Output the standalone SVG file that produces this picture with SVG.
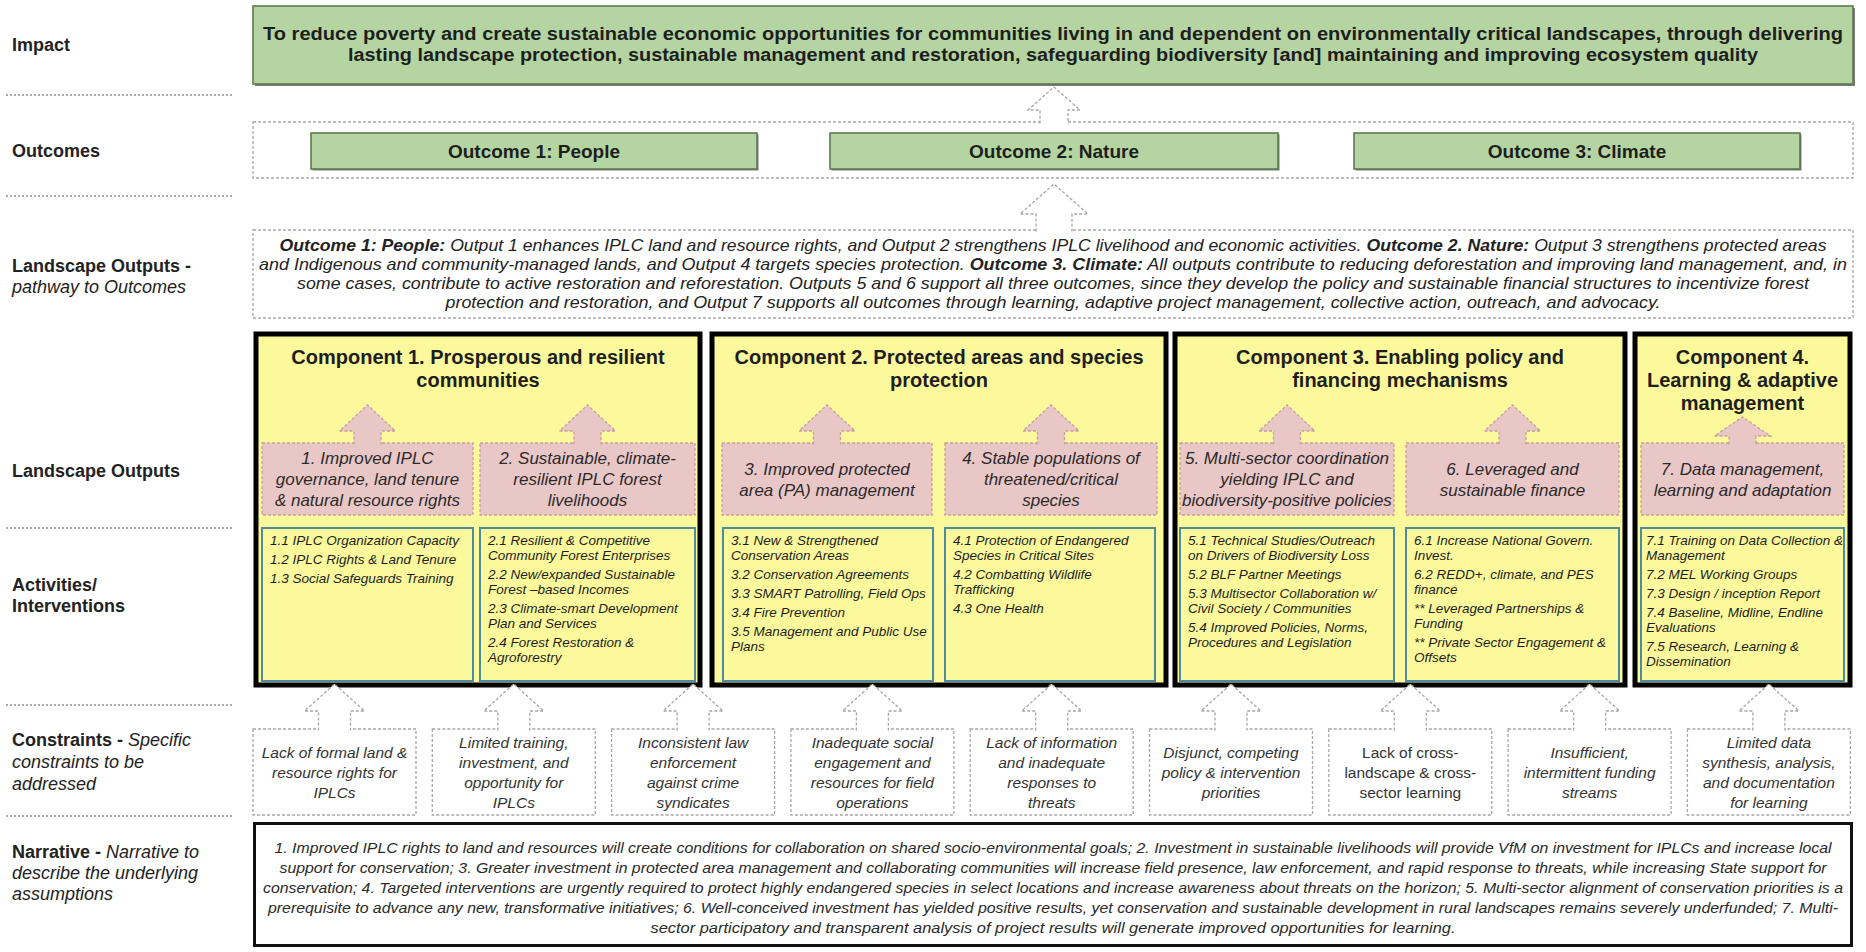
<svg xmlns="http://www.w3.org/2000/svg" width="1866" height="952" viewBox="0 0 1866 952">
  <style>
    text { font-family: "Liberation Sans", Arial, sans-serif; }
    .lbl { font-size: 18px; font-weight: bold; fill: #222; }
    .it { font-weight: normal; font-style: italic; }
    .sep { stroke: #8c8c8c; stroke-width: 1.5; stroke-dasharray: 2 2; fill: none; }
    .green { fill: #b4d5a2; stroke: #5c7a4e; stroke-width: 1.6; }
    .shadow { fill: #7a7a7a; }
    .gtxt { font-size: 18px; font-weight: bold; fill: #1e1e1e; text-anchor: middle; }
    .otxt { font-size: 19px; font-weight: bold; fill: #1e1e1e; text-anchor: middle; }
    .dbox { fill: #fff; stroke: #a6a6a6; stroke-width: 1.3; stroke-dasharray: 3 2; }
    .darrow { fill: #fff; stroke: #a6a6a6; stroke-width: 1.3; stroke-dasharray: 3 2; }
    .ptw { font-size: 16.5px; font-style: italic; fill: #222; text-anchor: middle; }
    .b { font-weight: bold; }
    .comp { fill: #fbf99b; stroke: #000; stroke-width: 5; }
    .ttl { font-size: 20px; font-weight: bold; fill: #1e1e1e; text-anchor: middle; }
    .pink { fill: #eac7c7; stroke: #c79d9d; stroke-width: 1.3; stroke-dasharray: 3 2; }
    .ptxt { font-size: 17px; font-style: italic; fill: #2a2a2a; text-anchor: middle; }
    .act { fill: #fbf99b; stroke: #4f8ba0; stroke-width: 2; }
    .atxt { font-size: 13.5px; font-style: italic; fill: #1e1e1e; }
    .ctxt { font-size: 15.5px; font-style: italic; fill: #333; text-anchor: middle; }
    .ctxt.up { font-style: normal; }
    .narr { fill: #fff; stroke: #111; stroke-width: 3; }
    .ntxt { font-size: 14.5px; font-style: italic; fill: #2a2a2a; text-anchor: middle; }
  </style>

  <rect width="1866" height="952" fill="#fff"/>

  <!-- row labels and separators -->
  <g id="row-labels">
    <text class="lbl" x="12" y="51">Impact</text>
    <text class="lbl" x="12" y="157">Outcomes</text>
    <text class="lbl" x="12" y="272">Landscape Outputs -</text>
    <text class="lbl it" x="12" y="293">pathway to Outcomes</text>
    <text class="lbl" x="12" y="477">Landscape Outputs</text>
    <text class="lbl" x="12" y="591">Activities/</text>
    <text class="lbl" x="12" y="612">Interventions</text>
    <text class="lbl" x="12" y="746">Constraints - <tspan class="it">Specific</tspan></text>
    <text class="lbl it" x="12" y="768">constraints to be</text>
    <text class="lbl it" x="12" y="790">addressed</text>
    <text class="lbl" x="12" y="858">Narrative - <tspan class="it">Narrative to</tspan></text>
    <text class="lbl it" x="12" y="879">describe the underlying</text>
    <text class="lbl it" x="12" y="900">assumptions</text>
  </g>
  <g id="separators">
    <line class="sep" x1="6" y1="95" x2="233" y2="95"/>
    <line class="sep" x1="6" y1="196" x2="233" y2="196"/>
    <line class="sep" x1="6" y1="528" x2="233" y2="528"/>
    <line class="sep" x1="6" y1="705" x2="233" y2="705"/>
    <line class="sep" x1="6" y1="816" x2="233" y2="816"/>
  </g>

  <!-- impact -->
  <g id="impact">
    <rect class="shadow" x="255" y="8" width="1600" height="78"/>
    <rect class="green" x="253" y="6" width="1600" height="78"/>
    <text class="gtxt" x="1053" y="40" textLength="1580" lengthAdjust="spacingAndGlyphs">To reduce poverty and create sustainable economic opportunities for communities living in and dependent on environmentally critical landscapes, through delivering</text>
    <text class="gtxt" x="1053" y="61" textLength="1410" lengthAdjust="spacingAndGlyphs">lasting landscape protection, sustainable management and restoration, safeguarding biodiversity [and] maintaining and improving ecosystem quality</text>
  </g>

  <!-- outcomes -->
  <g id="outcomes">
    <rect class="dbox" x="253" y="122" width="1600" height="56"/>
  </g>
  <g id="outcome-1">
    <rect class="shadow" x="312.5" y="134.5" width="446" height="36"/>
    <rect class="green" x="311" y="133" width="446" height="36"/>
    <text class="otxt" x="534" y="158">Outcome 1: People</text>
  </g>
  <g id="outcome-2">
    <rect class="shadow" x="831.5" y="134.5" width="448" height="36"/>
    <rect class="green" x="830" y="133" width="448" height="36"/>
    <text class="otxt" x="1054" y="158">Outcome 2: Nature</text>
  </g>
  <g id="outcome-3">
    <rect class="shadow" x="1355.5" y="134.5" width="446" height="36"/>
    <rect class="green" x="1354" y="133" width="446" height="36"/>
    <text class="otxt" x="1577" y="158">Outcome 3: Climate</text>
  </g>

  <!-- pathway to outcomes -->
  <g id="pathway">
    <rect class="dbox" x="253" y="230" width="1600" height="88"/>
    <text class="ptw" x="1053" y="250.5" textLength="1547" lengthAdjust="spacingAndGlyphs"><tspan class="b">Outcome 1: People:</tspan> Output 1 enhances IPLC land and resource rights, and Output 2 strengthens IPLC livelihood and economic activities. <tspan class="b">Outcome 2. Nature:</tspan> Output 3 strengthens protected areas</text>
    <text class="ptw" x="1053" y="269.5" textLength="1588" lengthAdjust="spacingAndGlyphs">and Indigenous and community-managed lands, and Output 4 targets species protection. <tspan class="b">Outcome 3. Climate:</tspan> All outputs contribute to reducing deforestation and improving land management, and, in</text>
    <text class="ptw" x="1053" y="288.5" textLength="1512" lengthAdjust="spacingAndGlyphs">some cases, contribute to active restoration and reforestation. Outputs 5 and 6 support all three outcomes, since they develop the policy and sustainable financial structures to incentivize forest</text>
    <text class="ptw" x="1053" y="307.5" textLength="1215" lengthAdjust="spacingAndGlyphs">protection and restoration, and Output 7 supports all outcomes through learning, adaptive project management, collective action, outreach, and advocacy.</text>
  </g>

  <!-- components -->
  <g id="component-1">
    <rect class="comp" x="256" y="334" width="444" height="351"/>
    <text class="ttl" x="478" y="364">Component 1. Prosperous and resilient</text>
    <text class="ttl" x="478" y="387">communities</text>
  </g>
  <g id="component-2">
    <rect class="comp" x="712" y="334" width="454" height="351"/>
    <text class="ttl" x="939" y="364">Component 2. Protected areas and species</text>
    <text class="ttl" x="939" y="387">protection</text>
  </g>
  <g id="component-3">
    <rect class="comp" x="1175" y="334" width="450" height="351"/>
    <text class="ttl" x="1400" y="364">Component 3. Enabling policy and</text>
    <text class="ttl" x="1400" y="387">financing mechanisms</text>
  </g>
  <g id="component-4">
    <rect class="comp" x="1635" y="334" width="215" height="351"/>
    <text class="ttl" x="1742.5" y="364">Component 4.</text>
    <text class="ttl" x="1742.5" y="387">Learning &amp; adaptive</text>
    <text class="ttl" x="1742.5" y="410">management</text>
  </g>

  <!-- landscape outputs -->
  <g id="output-1">
    <rect class="pink" x="262" y="443" width="211" height="72"/>
    <text class="ptxt" x="367.5" y="464">1. Improved IPLC</text>
    <text class="ptxt" x="367.5" y="485">governance, land tenure</text>
    <text class="ptxt" x="367.5" y="506">&amp; natural resource rights</text>
  </g>
  <g id="output-2">
    <rect class="pink" x="480" y="443" width="215" height="72"/>
    <text class="ptxt" x="587.5" y="464">2. Sustainable, climate-</text>
    <text class="ptxt" x="587.5" y="485">resilient IPLC forest</text>
    <text class="ptxt" x="587.5" y="506">livelihoods</text>
  </g>
  <g id="output-3">
    <rect class="pink" x="722" y="443" width="210" height="72"/>
    <text class="ptxt" x="827" y="474.5">3. Improved protected</text>
    <text class="ptxt" x="827" y="495.5">area (PA) management</text>
  </g>
  <g id="output-4">
    <rect class="pink" x="945" y="443" width="212" height="72"/>
    <text class="ptxt" x="1051" y="464">4. Stable populations of</text>
    <text class="ptxt" x="1051" y="485">threatened/critical</text>
    <text class="ptxt" x="1051" y="506">species</text>
  </g>
  <g id="output-5">
    <rect class="pink" x="1180" y="443" width="214" height="72"/>
    <text class="ptxt" x="1287" y="464">5. Multi-sector coordination</text>
    <text class="ptxt" x="1287" y="485">yielding IPLC and</text>
    <text class="ptxt" x="1287" y="506">biodiversity-positive policies</text>
  </g>
  <g id="output-6">
    <rect class="pink" x="1406" y="443" width="213" height="72"/>
    <text class="ptxt" x="1512.5" y="474.5">6. Leveraged and</text>
    <text class="ptxt" x="1512.5" y="495.5">sustainable finance</text>
  </g>
  <g id="output-7">
    <rect class="pink" x="1641" y="443" width="203" height="72"/>
    <text class="ptxt" x="1742.5" y="474.5">7. Data management,</text>
    <text class="ptxt" x="1742.5" y="495.5">learning and adaptation</text>
  </g>

  <!-- activities -->
  <g id="activities-1">
    <rect class="act" x="262" y="528" width="211" height="153"/>
    <text class="atxt" x="270" y="545">1.1 IPLC Organization Capacity</text>
    <text class="atxt" x="270" y="564">1.2  IPLC Rights &amp; Land Tenure</text>
    <text class="atxt" x="270" y="583">1.3 Social Safeguards Training</text>
  </g>
  <g id="activities-2">
    <rect class="act" x="480" y="528" width="215" height="153"/>
    <text class="atxt" x="488" y="545">2.1 Resilient &amp; Competitive</text>
    <text class="atxt" x="488" y="560">Community Forest Enterprises</text>
    <text class="atxt" x="488" y="579">2.2 New/expanded Sustainable</text>
    <text class="atxt" x="488" y="594">Forest –based Incomes</text>
    <text class="atxt" x="488" y="613">2.3 Climate-smart Development</text>
    <text class="atxt" x="488" y="628">Plan and Services</text>
    <text class="atxt" x="488" y="647">2.4 Forest Restoration &amp;</text>
    <text class="atxt" x="488" y="662">Agroforestry</text>
  </g>
  <g id="activities-3">
    <rect class="act" x="723" y="528" width="210" height="153"/>
    <text class="atxt" x="731" y="545">3.1 New  &amp; Strengthened</text>
    <text class="atxt" x="731" y="560">Conservation Areas</text>
    <text class="atxt" x="731" y="579">3.2 Conservation Agreements</text>
    <text class="atxt" x="731" y="598">3.3 SMART Patrolling, Field Ops</text>
    <text class="atxt" x="731" y="617">3.4 Fire Prevention</text>
    <text class="atxt" x="731" y="636">3.5 Management and Public Use</text>
    <text class="atxt" x="731" y="651">Plans</text>
  </g>
  <g id="activities-4">
    <rect class="act" x="945" y="528" width="210" height="153"/>
    <text class="atxt" x="953" y="545">4.1 Protection of Endangered</text>
    <text class="atxt" x="953" y="560">Species in Critical Sites</text>
    <text class="atxt" x="953" y="579">4.2 Combatting Wildlife</text>
    <text class="atxt" x="953" y="594">Trafficking</text>
    <text class="atxt" x="953" y="613">4.3 One Health</text>
  </g>
  <g id="activities-5">
    <rect class="act" x="1180" y="528" width="214" height="153"/>
    <text class="atxt" x="1188" y="545">5.1 Technical Studies/Outreach</text>
    <text class="atxt" x="1188" y="560">on Drivers of Biodiversity Loss</text>
    <text class="atxt" x="1188" y="579">5.2 BLF Partner Meetings</text>
    <text class="atxt" x="1188" y="598">5.3 Multisector Collaboration w/</text>
    <text class="atxt" x="1188" y="613">Civil Society / Communities</text>
    <text class="atxt" x="1188" y="632">5.4 Improved Policies, Norms,</text>
    <text class="atxt" x="1188" y="647">Procedures and Legislation</text>
  </g>
  <g id="activities-6">
    <rect class="act" x="1406" y="528" width="213" height="153"/>
    <text class="atxt" x="1414" y="545">6.1 Increase National Govern.</text>
    <text class="atxt" x="1414" y="560">Invest.</text>
    <text class="atxt" x="1414" y="579">6.2 REDD+, climate, and PES</text>
    <text class="atxt" x="1414" y="594">finance</text>
    <text class="atxt" x="1414" y="613">** Leveraged Partnerships &amp;</text>
    <text class="atxt" x="1414" y="628">Funding</text>
    <text class="atxt" x="1414" y="647">** Private Sector Engagement &amp;</text>
    <text class="atxt" x="1414" y="662">Offsets</text>
  </g>
  <g id="activities-7">
    <rect class="act" x="1641" y="528" width="203" height="153"/>
    <text class="atxt" x="1646" y="545">7.1 Training on Data Collection &amp;</text>
    <text class="atxt" x="1646" y="560">Management</text>
    <text class="atxt" x="1646" y="579">7.2 MEL Working Groups</text>
    <text class="atxt" x="1646" y="598">7.3 Design / inception Report</text>
    <text class="atxt" x="1646" y="617">7.4 Baseline, Midline, Endline</text>
    <text class="atxt" x="1646" y="632">Evaluations</text>
    <text class="atxt" x="1646" y="651">7.5 Research, Learning &amp;</text>
    <text class="atxt" x="1646" y="666">Dissemination</text>
  </g>

  <!-- constraints -->
  <g id="constraint-1">
    <rect class="dbox" x="253" y="729" width="163" height="86"/>
    <text class="ctxt" x="334.5" y="757.5">Lack of formal land &amp;</text>
    <text class="ctxt" x="334.5" y="777.5">resource rights for</text>
    <text class="ctxt" x="334.5" y="797.5">IPLCs</text>
  </g>
  <g id="constraint-2">
    <rect class="dbox" x="432.3" y="729" width="163" height="86"/>
    <text class="ctxt" x="513.8" y="747.5">Limited training,</text>
    <text class="ctxt" x="513.8" y="767.5">investment, and</text>
    <text class="ctxt" x="513.8" y="787.5">opportunity for</text>
    <text class="ctxt" x="513.8" y="807.5">IPLCs</text>
  </g>
  <g id="constraint-3">
    <rect class="dbox" x="611.6" y="729" width="163" height="86"/>
    <text class="ctxt" x="693.1" y="747.5">Inconsistent law</text>
    <text class="ctxt" x="693.1" y="767.5">enforcement</text>
    <text class="ctxt" x="693.1" y="787.5">against crime</text>
    <text class="ctxt" x="693.1" y="807.5">syndicates</text>
  </g>
  <g id="constraint-4">
    <rect class="dbox" x="790.9" y="729" width="163" height="86"/>
    <text class="ctxt" x="872.4" y="747.5">Inadequate social</text>
    <text class="ctxt" x="872.4" y="767.5">engagement and</text>
    <text class="ctxt" x="872.4" y="787.5">resources for field</text>
    <text class="ctxt" x="872.4" y="807.5">operations</text>
  </g>
  <g id="constraint-5">
    <rect class="dbox" x="970.2" y="729" width="163" height="86"/>
    <text class="ctxt" x="1051.7" y="747.5">Lack of information</text>
    <text class="ctxt" x="1051.7" y="767.5">and inadequate</text>
    <text class="ctxt" x="1051.7" y="787.5">responses to</text>
    <text class="ctxt" x="1051.7" y="807.5">threats</text>
  </g>
  <g id="constraint-6">
    <rect class="dbox" x="1149.5" y="729" width="163" height="86"/>
    <text class="ctxt" x="1231" y="757.5">Disjunct, competing</text>
    <text class="ctxt" x="1231" y="777.5">policy &amp; intervention</text>
    <text class="ctxt" x="1231" y="797.5">priorities</text>
  </g>
  <g id="constraint-7">
    <rect class="dbox" x="1328.8" y="729" width="163" height="86"/>
    <text class="ctxt up" x="1410.3" y="757.5">Lack of cross-</text>
    <text class="ctxt up" x="1410.3" y="777.5">landscape &amp; cross-</text>
    <text class="ctxt up" x="1410.3" y="797.5">sector learning</text>
  </g>
  <g id="constraint-8">
    <rect class="dbox" x="1508.1" y="729" width="163" height="86"/>
    <text class="ctxt" x="1589.6" y="757.5">Insufficient,</text>
    <text class="ctxt" x="1589.6" y="777.5">intermittent funding</text>
    <text class="ctxt" x="1589.6" y="797.5">streams</text>
  </g>
  <g id="constraint-9">
    <rect class="dbox" x="1687.4" y="729" width="163" height="86"/>
    <text class="ctxt" x="1768.9" y="747.5">Limited data</text>
    <text class="ctxt" x="1768.9" y="767.5">synthesis, analysis,</text>
    <text class="ctxt" x="1768.9" y="787.5">and documentation</text>
    <text class="ctxt" x="1768.9" y="807.5">for learning</text>
  </g>

  <!-- narrative -->
  <g id="narrative">
    <rect class="narr" x="254.5" y="823.5" width="1597" height="122"/>
    <text class="ntxt" x="1053" y="853" textLength="1557" lengthAdjust="spacingAndGlyphs">1. Improved IPLC rights to land and resources will create conditions for collaboration on shared socio-environmental goals; 2. Investment in sustainable livelihoods will provide VfM on investment for IPLCs and increase local</text>
    <text class="ntxt" x="1053" y="873" textLength="1547" lengthAdjust="spacingAndGlyphs">support for conservation; 3. Greater investment in protected area management and collaborating communities will increase field presence, law enforcement, and rapid response to threats, while increasing State support for</text>
    <text class="ntxt" x="1053" y="893" textLength="1580" lengthAdjust="spacingAndGlyphs">conservation; 4. Targeted interventions are urgently required to protect highly endangered species in select locations and increase awareness about threats on the horizon; 5. Multi-sector alignment of conservation priorities is a</text>
    <text class="ntxt" x="1053" y="913" textLength="1570" lengthAdjust="spacingAndGlyphs">prerequisite to advance any new, transformative initiatives; 6. Well-conceived investment has yielded positive results, yet conservation and sustainable development in rural landscapes remains severely underfunded; 7. Multi-</text>
    <text class="ntxt" x="1053" y="933" textLength="805" lengthAdjust="spacingAndGlyphs">sector participatory and transparent analysis of project results will generate improved opportunities for learning.</text>
  </g>

  <!-- connectors: block arrows pointing upward through the chain -->
  <g id="connectors">
    <path class="darrow" d="M1040,123.5 V110 H1028 L1054,87 L1080,110 H1068 V123.5"/>
    <path class="darrow" d="M1036,231.5 V214 H1020 L1054,184 L1088,214 H1072 V231.5"/>

    <path class="pink" d="M354,444.5 V431 H339.5 L367.5,405 L395.5,431 H381 V444.5"/>
    <path class="pink" d="M574,444.5 V431 H559.5 L587.5,405 L615.5,431 H601 V444.5"/>
    <path class="pink" d="M813.5,444.5 V431 H799 L827,405 L855,431 H840.5 V444.5"/>
    <path class="pink" d="M1037.5,444.5 V431 H1023 L1051,405 L1079,431 H1064.5 V444.5"/>
    <path class="pink" d="M1273.5,444.5 V431 H1259 L1287,405 L1315,431 H1300.5 V444.5"/>
    <path class="pink" d="M1499,444.5 V431 H1484.5 L1512.5,405 L1540.5,431 H1526 V444.5"/>
    <path class="pink" d="M1729,444.5 V436 H1714.5 L1742.5,417 L1770.5,436 H1756 V444.5"/>

    <path class="darrow" d="M318.5,730.5 V711 H304.5 L334.5,684 L364.5,711 H350.5 V730.5"/>
    <path class="darrow" d="M497.8,730.5 V711 H483.8 L513.8,684 L543.8,711 H529.8 V730.5"/>
    <path class="darrow" d="M677.1,730.5 V711 H663.1 L693.1,684 L723.1,711 H709.1 V730.5"/>
    <path class="darrow" d="M856.4,730.5 V711 H842.4 L872.4,684 L902.4,711 H888.4 V730.5"/>
    <path class="darrow" d="M1035.7,730.5 V711 H1021.7 L1051.7,684 L1081.7,711 H1067.7 V730.5"/>
    <path class="darrow" d="M1215,730.5 V711 H1201 L1231,684 L1261,711 H1247 V730.5"/>
    <path class="darrow" d="M1394.3,730.5 V711 H1380.3 L1410.3,684 L1440.3,711 H1426.3 V730.5"/>
    <path class="darrow" d="M1573.6,730.5 V711 H1559.6 L1589.6,684 L1619.6,711 H1605.6 V730.5"/>
    <path class="darrow" d="M1752.9,730.5 V711 H1738.9 L1768.9,684 L1798.9,711 H1784.9 V730.5"/>
  </g>
</svg>
